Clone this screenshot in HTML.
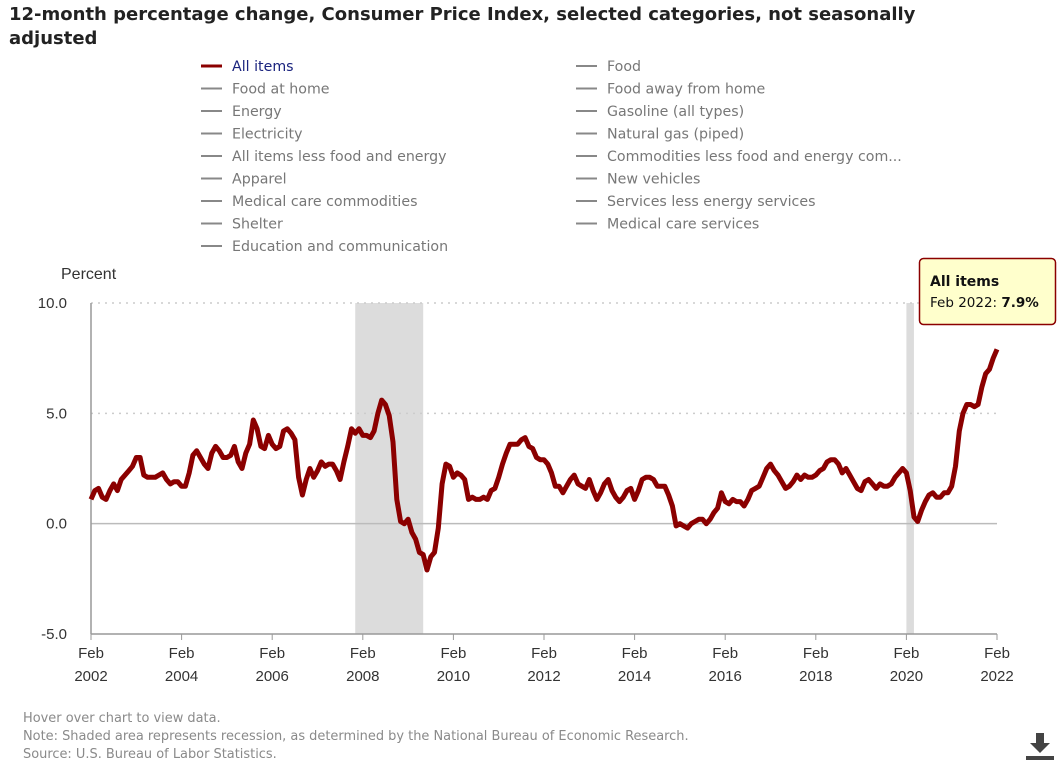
<!DOCTYPE html>
<html><head><meta charset="utf-8">
<style>
body{margin:0;background:#fff;font-family:"Liberation Sans",sans-serif;}
#wrap{position:relative;width:1063px;height:762px;overflow:hidden;}
.title{position:absolute;left:9px;top:3px;font-family:"DejaVu Sans",sans-serif;font-size:18px;font-weight:bold;color:#222;line-height:24px;width:940px;}
.foot{position:absolute;left:23px;font-family:"DejaVu Sans",sans-serif;font-size:12.95px;color:#8a8a8a;}
</style></head><body>
<div id="wrap">
<div class="title">12-month percentage change, Consumer Price Index, selected categories, not seasonally adjusted</div>
<svg id="svg" width="1063" height="762" style="position:absolute;left:0;top:0"></svg>
<div class="foot" style="top:711px">Hover over chart to view data.</div>
<div class="foot" style="top:729px">Note: Shaded area represents recession, as determined by the National Bureau of Economic Research.</div>
<div class="foot" style="top:747px">Source: U.S. Bureau of Labor Statistics.</div>
</div>
<script>
const legendLeft=["All items","Food at home","Energy","Electricity","All items less food and energy","Apparel","Medical care commodities","Shelter","Education and communication"];
const legendRight=["Food","Food away from home","Gasoline (all types)","Natural gas (piped)","Commodities less food and energy com...","New vehicles","Services less energy services","Medical care services"];
const yTicks=[-5,0,5,10];
const xTickYears=["2002","2004","2006","2008","2010","2012","2014","2016","2018","2020","2022"];
const recessions=[[70,88],[216,218]];
const allItems=[1.1,1.5,1.6,1.2,1.1,1.5,1.8,1.5,2.0,2.2,2.4,
2.6,3.0,3.0,2.2,2.1,2.1,2.1,2.2,2.3,2.0,1.8,1.9,
1.9,1.7,1.7,2.3,3.1,3.3,3.0,2.7,2.5,3.2,3.5,3.3,
3.0,3.0,3.1,3.5,2.8,2.5,3.2,3.6,4.7,4.3,3.5,3.4,
4.0,3.6,3.4,3.5,4.2,4.3,4.1,3.8,2.1,1.3,2.0,2.5,
2.1,2.4,2.8,2.6,2.7,2.7,2.4,2.0,2.8,3.5,4.3,4.1,
4.3,4.0,4.0,3.9,4.2,5.0,5.6,5.4,4.9,3.7,1.1,0.1,
0.0,0.2,-0.4,-0.7,-1.3,-1.4,-2.1,-1.5,-1.3,-0.2,1.8,2.7,
2.6,2.1,2.3,2.2,2.0,1.1,1.2,1.1,1.1,1.2,1.1,1.5,
1.6,2.1,2.7,3.2,3.6,3.6,3.6,3.8,3.9,3.5,3.4,3.0,
2.9,2.9,2.7,2.3,1.7,1.7,1.4,1.7,2.0,2.2,1.8,1.7,
1.6,2.0,1.5,1.1,1.4,1.8,2.0,1.5,1.2,1.0,1.2,1.5,
1.6,1.1,1.5,2.0,2.1,2.1,2.0,1.7,1.7,1.7,1.3,0.8,
-0.1,0.0,-0.1,-0.2,0.0,0.1,0.2,0.2,0.0,0.2,0.5,0.7,
1.4,1.0,0.9,1.1,1.0,1.0,0.8,1.1,1.5,1.6,1.7,2.1,
2.5,2.7,2.4,2.2,1.9,1.6,1.7,1.9,2.2,2.0,2.2,2.1,
2.1,2.2,2.4,2.5,2.8,2.9,2.9,2.7,2.3,2.5,2.2,1.9,
1.6,1.5,1.9,2.0,1.8,1.6,1.8,1.7,1.7,1.8,2.1,2.3,
2.5,2.3,1.5,0.3,0.1,0.6,1.0,1.3,1.4,1.2,1.2,1.4,
1.4,1.7,2.6,4.2,5.0,5.4,5.4,5.3,5.4,6.2,6.8,7.0,
7.5,7.9];
const NS="http://www.w3.org/2000/svg";
const svg=document.getElementById('svg');
const X0=91,X1=997,Y10=303,Ym5=634;
const nMonths=240;
const LF='"DejaVu Sans",sans-serif';
function xS(m){return X0+m*(X1-X0)/nMonths;}
function yS(v){return Ym5+(v+5)*(Y10-Ym5)/15;}
function mk(tag,attrs,parent){const e=document.createElementNS(NS,tag);for(const k in attrs)e.setAttribute(k,attrs[k]);(parent||svg).appendChild(e);return e;}
legendLeft.forEach((t,i)=>{
 const g=mk('g',{});
 
 
 const y=66+i*22.5;
 mk('line',{x1:201,x2:222,y1:y,y2:y,stroke:i==0?'#8b0000':'#888','stroke-width':i==0?3:2},g);
 const tx=mk('text',{x:232,y:y+5,'font-size':14.2,'font-family':LF,fill:i==0?'#1a237e':'#777'},g);tx.textContent=t;
});
legendRight.forEach((t,i)=>{
 const g=mk('g',{});
 
 
 const y=66+i*22.5;
 mk('line',{x1:576,x2:597,y1:y,y2:y,stroke:'#888','stroke-width':2},g);
 const tx=mk('text',{x:607,y:y+5,'font-size':14.2,'font-family':LF,fill:'#777'},g);tx.textContent=t;
});
recessions.forEach(r=>{
 const e=mk('rect',{x:xS(r[0]),y:Y10,width:xS(r[1])-xS(r[0]),height:Ym5-Y10,fill:'#dcdcdc'});
 
 
});
yTicks.forEach(v=>{
 const y=yS(v);
 if(v>-5){const l=mk('line',{x1:X0,x2:X1,y1:y,y2:y,stroke:v==0?'#bbb':'#ccc','stroke-width':1.5,'stroke-dasharray':v==0?'':'2,5'});
 }
 const t=mk('text',{x:67,y:y+5,'font-size':15,fill:'#333','text-anchor':'end'});t.textContent=v.toFixed(1);
 
});
const pt=mk('text',{x:61,y:279,'font-size':16,fill:'#333'});pt.textContent='Percent';

const ya=mk('line',{x1:X0,x2:X0,y1:Y10,y2:Ym5,stroke:'#999','stroke-width':1.5});

const xa=mk('line',{x1:X0,x2:X1,y1:Ym5,y2:Ym5,stroke:'#999','stroke-width':1.5});

xTickYears.forEach((yr,i)=>{
 const x=xS(i*24);
 mk('line',{x1:x,x2:x,y1:Ym5,y2:Ym5+6,stroke:'#999','stroke-width':1});
 const t1=mk('text',{x:x,y:658,'font-size':15,fill:'#333','text-anchor':'middle'});t1.textContent='Feb';
 
 const t2=mk('text',{x:x,y:681,'font-size':15,fill:'#333','text-anchor':'middle'});t2.textContent=yr;
 
});
const d=allItems.map((v,i)=>(i?'L':'M')+xS(i).toFixed(1)+','+yS(v).toFixed(1)).join(' ');
const ln=mk('path',{d:d,fill:'none',stroke:'#8b0000','stroke-width':5,'stroke-linejoin':'round'});

const tg=mk('g',{});


mk('rect',{x:919.5,y:258.5,width:136,height:66,rx:4,fill:'#ffffcc',stroke:'#8b0000','stroke-width':1.5},tg);
const a=mk('text',{x:930,y:286,'font-size':14,'font-family':LF,'font-weight':'bold',fill:'#111'},tg);a.textContent='All items';
const b=mk('text',{x:930,y:307,'font-size':13.5,'font-family':LF,fill:'#111'},tg);
b.innerHTML='Feb 2022: <tspan font-weight="bold">'+allItems[allItems.length-1].toFixed(1)+'%</tspan>';
const dg=mk('g',{});


mk('rect',{x:1036,y:733,width:8,height:10,fill:'#444'},dg);
mk('polygon',{points:'1030,743 1050,743 1040,753',fill:'#444'},dg);
mk('rect',{x:1026,y:756,width:28,height:4,fill:'#444'},dg);
</script>
</body></html>
